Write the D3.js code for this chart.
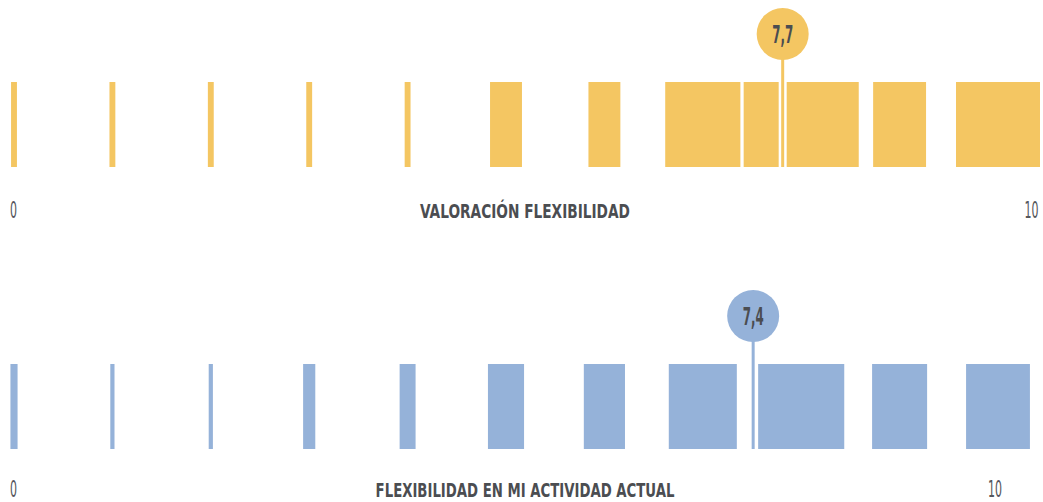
<!DOCTYPE html>
<html>
<head>
  <meta charset="utf-8">
  <title>Valoración flexibilidad</title>
  <script src="https://d3js.org/d3.v7.min.js"></script>
  <style>
    body { margin: 0; background: #fff; }
  </style>
</head>
<body>
<script type="text/javascript">
  var w = 1043;
  var h = 502;

  // scores 0..10 and the share of answers (%) for each score
  var scores = [0, 1, 2, 3, 4, 5, 6, 7, 8, 9, 10];
  var shareValoracion = [1.4, 1.4, 1.4, 1.4, 1.4, 7.6, 7.6, 17.9, 27.4, 12.6, 20.0];
  var shareActividad = [1.7, 1.0, 1.0, 2.9, 3.8, 8.6, 9.8, 16.2, 20.5, 13.1, 15.2];
  var means = [7.7, 7.4];
  var meanLabels = ["7,7", "7,4"];
  var titles = ["VALORACIÓN FLEXIBILIDAD", "FLEXIBILIDAD EN MI ACTIVIDAD ACTUAL"];
  var colors = ["#f4c662", "#95b2d9"];
  var textColor = "#4b4d51";

  var rows = [
    { share: shareValoracion, mean: means[0], label: meanLabels[0], title: titles[0], color: colors[0], top: 82, base: 218, titleLen: 210, tenX: 1031.5 },
    { share: shareActividad, mean: means[1], label: meanLabels[1], title: titles[1], color: colors[1], top: 364, base: 497, titleLen: 299, tenX: 995 }
  ];

  var barH = 85;
  var condensed = "'Liberation Sans Narrow', 'DejaVu Sans Condensed', 'Arial Narrow', sans-serif";

  var svg = d3.select("body").append("svg")
    .attr("width", w)
    .attr("height", h);

  // bar centres and marker position
  var xScale = d3.scaleLinear().domain([0, 10]).range([14, 998]);
  var meanScale = d3.scaleLinear().domain([0, 10]).range([25, 1009]);
  // width of a bar from its share
  var wScale = d3.scaleLinear().domain([0, 100]).range([0, 420]);

  // squeeze a centred text to a given width
  function squeeze(sel, x, y, width) {
    var len = sel.node().getComputedTextLength();
    sel.attr("transform", "translate(" + x + "," + y + ") scale(" + (width / len) + ",1)");
  }

  rows.forEach(function(r) {
    var g = svg.append("g");

    g.selectAll("rect")
      .data(scores)
      .enter()
      .append("rect")
      .attr("x", function(d, i) { return xScale(d) - wScale(r.share[i]) / 2; })
      .attr("y", r.top)
      .attr("width", function(d, i) { return wScale(r.share[i]); })
      .attr("height", barH)
      .attr("fill", r.color);

    var cx = meanScale(r.mean);
    var cy = r.top - 48;

    // white halo under the pin line
    g.append("line")
      .attr("x1", cx).attr("x2", cx)
      .attr("y1", cy).attr("y2", r.top + barH)
      .attr("stroke", "#fff")
      .attr("stroke-width", 8);
    g.append("line")
      .attr("x1", cx).attr("x2", cx)
      .attr("y1", cy).attr("y2", r.top + barH)
      .attr("stroke", r.color)
      .attr("stroke-width", 3);

    g.append("circle")
      .attr("cx", cx)
      .attr("cy", cy)
      .attr("r", 26)
      .attr("fill", r.color);

    var m = g.append("text")
      .attr("text-anchor", "middle")
      .attr("fill", textColor)
      .style("font-family", condensed)
      .style("font-weight", "bold")
      .style("font-size", "24px")
      .text(r.label);
    squeeze(m, cx, cy + 9, 21);

    // axis ends and title
    var z = g.append("text")
      .attr("text-anchor", "middle")
      .attr("fill", "#55575b")
      .style("font-family", condensed)
      .style("font-size", "23px")
      .text("0");
    squeeze(z, 13.5, r.base, 7);

    var t = g.append("text")
      .attr("text-anchor", "middle")
      .attr("fill", "#55575b")
      .style("font-family", condensed)
      .style("font-size", "23px")
      .text("10");
    squeeze(t, r.tenX, r.base, 14);

    var ti = g.append("text")
      .attr("text-anchor", "middle")
      .attr("fill", textColor)
      .style("font-family", condensed)
      .style("font-weight", "bold")
      .style("font-size", "20px")
      .text(r.title);
    squeeze(ti, 525, r.base, r.titleLen);
  });
</script>
</body>
</html>
